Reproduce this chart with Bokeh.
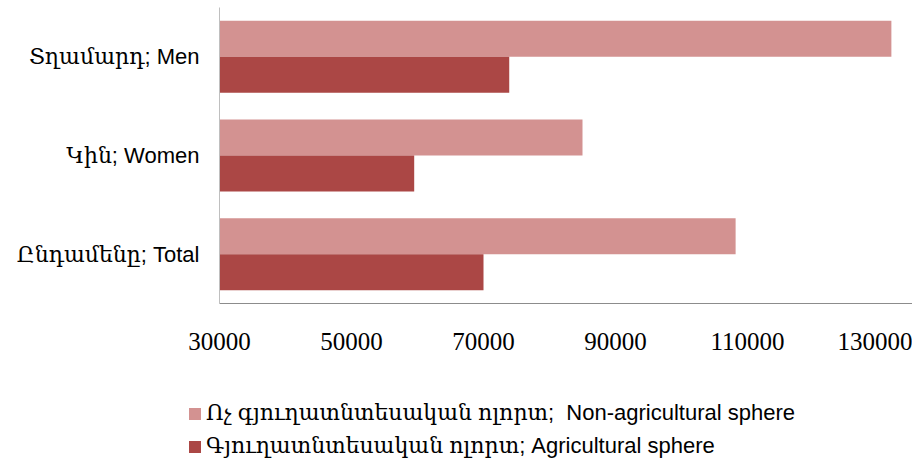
from bokeh.plotting import figure
from bokeh.models import ColumnDataSource, FactorRange, Range1d, Legend, LegendItem, FixedTicker, NumeralTickFormatter
from bokeh.transform import dodge
from bokeh.embed import file_html
from bokeh.resources import INLINE

categories = ["Տղամարդ; Men", "Կին; Women", "Ընդամենը; Total"]
non_agricultural = [131800, 85000, 108200]
agricultural = [73900, 59500, 70000]
x_ticks = [30000, 50000, 70000, 90000, 110000, 130000]
series_names = ["Ոչ գյուղատնտեսական ոլորտ;  Non-agricultural sphere",
                "Գյուղատնտեսական ոլորտ; Agricultural sphere"]
colors = ["#D39291", "#AB4745"]

BASE = 30000
src = ColumnDataSource(dict(cat=categories, non=non_agricultural, ag=agricultural,
                            base=[BASE] * len(categories)))

p = figure(width=912, height=355, output_backend="svg", toolbar_location=None,
           y_range=FactorRange(factors=categories[::-1]),
           x_range=Range1d(30000, 135000))
p.min_border_left = 219
p.min_border_top = 7
p.min_border_right = 0
p.min_border_bottom = 52
p.outline_line_color = None
p.background_fill_color = "white"
p.border_fill_color = "white"

bh = 0.365
p.hbar(y=dodge("cat", 0.1825, range=p.y_range), left="base", right="non", height=bh,
       source=src, fill_color=colors[0], line_color=None)
p.hbar(y=dodge("cat", -0.1825, range=p.y_range), left="base", right="ag", height=bh,
       source=src, fill_color=colors[1], line_color=None)

p.xgrid.visible = False
p.ygrid.visible = False

p.xaxis.ticker = FixedTicker(ticks=x_ticks)
p.xaxis.formatter = NumeralTickFormatter(format="0")
p.xaxis.axis_line_color = "#8C8C8C"
p.xaxis.major_tick_line_color = None
p.xaxis.minor_tick_line_color = None
p.xaxis.major_label_text_font = "Liberation Serif"
p.xaxis.major_label_text_font_size = "25px"
p.xaxis.major_label_text_color = "black"
p.xaxis.major_label_standoff = 23

p.yaxis.axis_line_color = "#BFBFBF"
p.yaxis.major_tick_line_color = None
p.yaxis.minor_tick_line_color = None
p.yaxis.major_label_text_font = "Liberation Sans, DejaVu Serif"
p.yaxis.major_label_text_font_size = "22px"
p.yaxis.major_label_text_color = "black"
p.yaxis.major_label_standoff = 14

# legend panel (separate root, below the chart)
q = figure(width=912, height=104, output_backend="svg", toolbar_location=None,
           x_range=Range1d(30000, 135000), y_range=FactorRange(factors=categories[::-1]),
           x_axis_location=None, y_axis_location=None)
q.min_border_left = q.min_border_right = q.min_border_top = q.min_border_bottom = 0
q.grid.visible = False
q.outline_line_color = None
d1 = q.hbar(y="cat", left="base", right="non", height=bh, source=src,
            fill_color=colors[0], line_color=None, visible=False)
d2 = q.hbar(y="cat", left="base", right="ag", height=bh, source=src,
            fill_color=colors[1], line_color=None, visible=False)

legend = Legend(items=[LegendItem(label=series_names[0], renderers=[d1]),
                       LegendItem(label=series_names[1], renderers=[d2])],
                location=(187, 0), orientation="vertical")
legend.border_line_color = None
legend.background_fill_alpha = 0
legend.inactive_fill_alpha = 0
legend.padding = 0
legend.margin = 0
legend.spacing = 7
legend.glyph_width = 15
legend.glyph_height = 15
legend.label_standoff = 4
legend.label_text_font = "Liberation Sans, DejaVu Serif"
legend.label_text_font_size = "22px"
legend.label_text_color = "black"
q.add_layout(legend, "center")

open("out.html", "w").write(file_html([p, q], INLINE))
